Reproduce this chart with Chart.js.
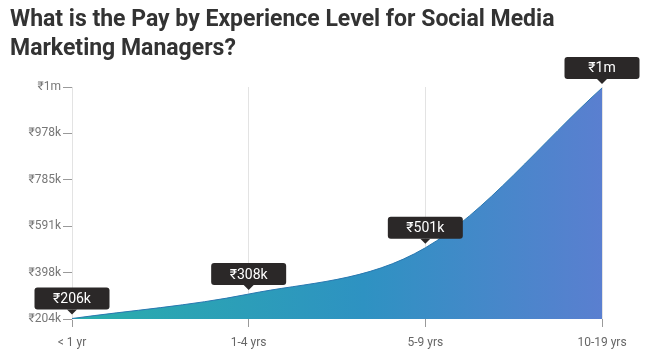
<!DOCTYPE html>
<html>
<head>
<meta charset="utf-8">
<script src="https://cdn.jsdelivr.net/npm/chart.js@4/dist/chart.umd.min.js"></script>
<style>
  body { margin: 0; background: #fff; }
  #wrap { position: relative; width: 661px; height: 360px; }
  #title {
    position: absolute; left: 10px; top: 4px; width: 645px;
    font: bold 23px Roboto, sans-serif; color: #333; line-height: 29px;
  }
  canvas { position: absolute; left: 0; top: 0; }
</style>
</head>
<body>
<div id="wrap">
  <canvas id="payCh" width="661" height="360"></canvas>
  <div id="title">What is the Pay by Experience Level for Social Media<br>Marketing Managers?</div>
</div>
<script>
let levels = ['< 1 yr', '1-4 yrs', '5-9 yrs', '10-19 yrs']
let pay = [206000, 308000, 501000, 1168000]
let y_ticks = [204000, 397600, 591200, 784800, 978400, 1172000]

function money(v) {
    if (v >= 1000000) return '₹' + Math.floor(v / 1000000) + 'm'
    return '₹' + Math.round(v / 1000) + 'k'
}

// dark boxes with a little pointer above every point
const boxLabels = {
    id: 'boxLabels',
    afterDatasetsDraw(chart) {
        const ctx = chart.ctx
        const meta = chart.getDatasetMeta(0)
        ctx.save()
        meta.data.forEach((pt, i) => {
            const w = 75, h = 22
            const x = pt.x, tip = pt.y - 4
            const bottom = tip - 5
            ctx.fillStyle = '#2b2828'
            ctx.beginPath()
            ctx.roundRect(x - w / 2, bottom - h, w, h, 3)
            ctx.fill()
            ctx.beginPath()
            ctx.moveTo(x - 5, bottom)
            ctx.lineTo(x + 5, bottom)
            ctx.lineTo(x, tip)
            ctx.closePath()
            ctx.fill()
            ctx.fillStyle = '#fff'
            ctx.font = '14px Roboto'
            ctx.textAlign = 'center'
            ctx.textBaseline = 'middle'
            ctx.fillText(money(pay[i]), x, bottom - h / 2 + 1)
        })
        ctx.restore()
    }
}

function createChart(id) {
    const c = document.getElementById(id).getContext('2d')

    new Chart(c, {
        type: 'line',
        data: {
            labels: levels,
            datasets: [{
                data: pay,
                fill: 'start',
                borderColor: '#2a78b0',
                borderWidth: 1,
                pointRadius: 0,
                cubicInterpolationMode: 'monotone',
                backgroundColor: function (context) {
                    const area = context.chart.chartArea
                    if (!area) return '#2e92c2'
                    const g = context.chart.ctx.createLinearGradient(area.left, 0, area.right, 0)
                    g.addColorStop(0, '#29aeab')
                    g.addColorStop(0.55, '#2e92c2')
                    g.addColorStop(1, '#5a7fd0')
                    return g
                }
            }]
        },
        options: {
            responsive: false,
            animation: false,
            layout: { padding: { left: 10, right: 59, top: 87, bottom: 0 } },
            plugins: {
                legend: { display: false },
                tooltip: { enabled: false }
            },
            scales: {
                x: {
                    afterFit: function (s) { s.height = 41 },
                    grid: { color: '#e3e3e3', tickColor: '#9a9a9a', tickLength: 8, offset: false },
                    border: { display: false },
                    ticks: { color: '#666', font: { family: 'Roboto', size: 12 }, padding: 9, maxRotation: 0 }
                },
                y: {
                    min: y_ticks[0],
                    max: y_ticks[y_ticks.length - 1],
                    afterFit: function (s) { s.width = 62 },
                    afterBuildTicks: function (s) { s.ticks = y_ticks.map(v => ({ value: v })) },
                    grid: { drawOnChartArea: false, tickColor: '#9a9a9a', tickLength: 9 },
                    border: { color: '#e3e3e3' },
                    ticks: {
                        color: '#777', font: { family: 'Roboto', size: 12 }, padding: 2,
                        callback: function (v) { return money(v) }
                    }
                }
            }
        },
        plugins: [boxLabels]
    })
}

createChart('payCh')
</script>
</body>
</html>
